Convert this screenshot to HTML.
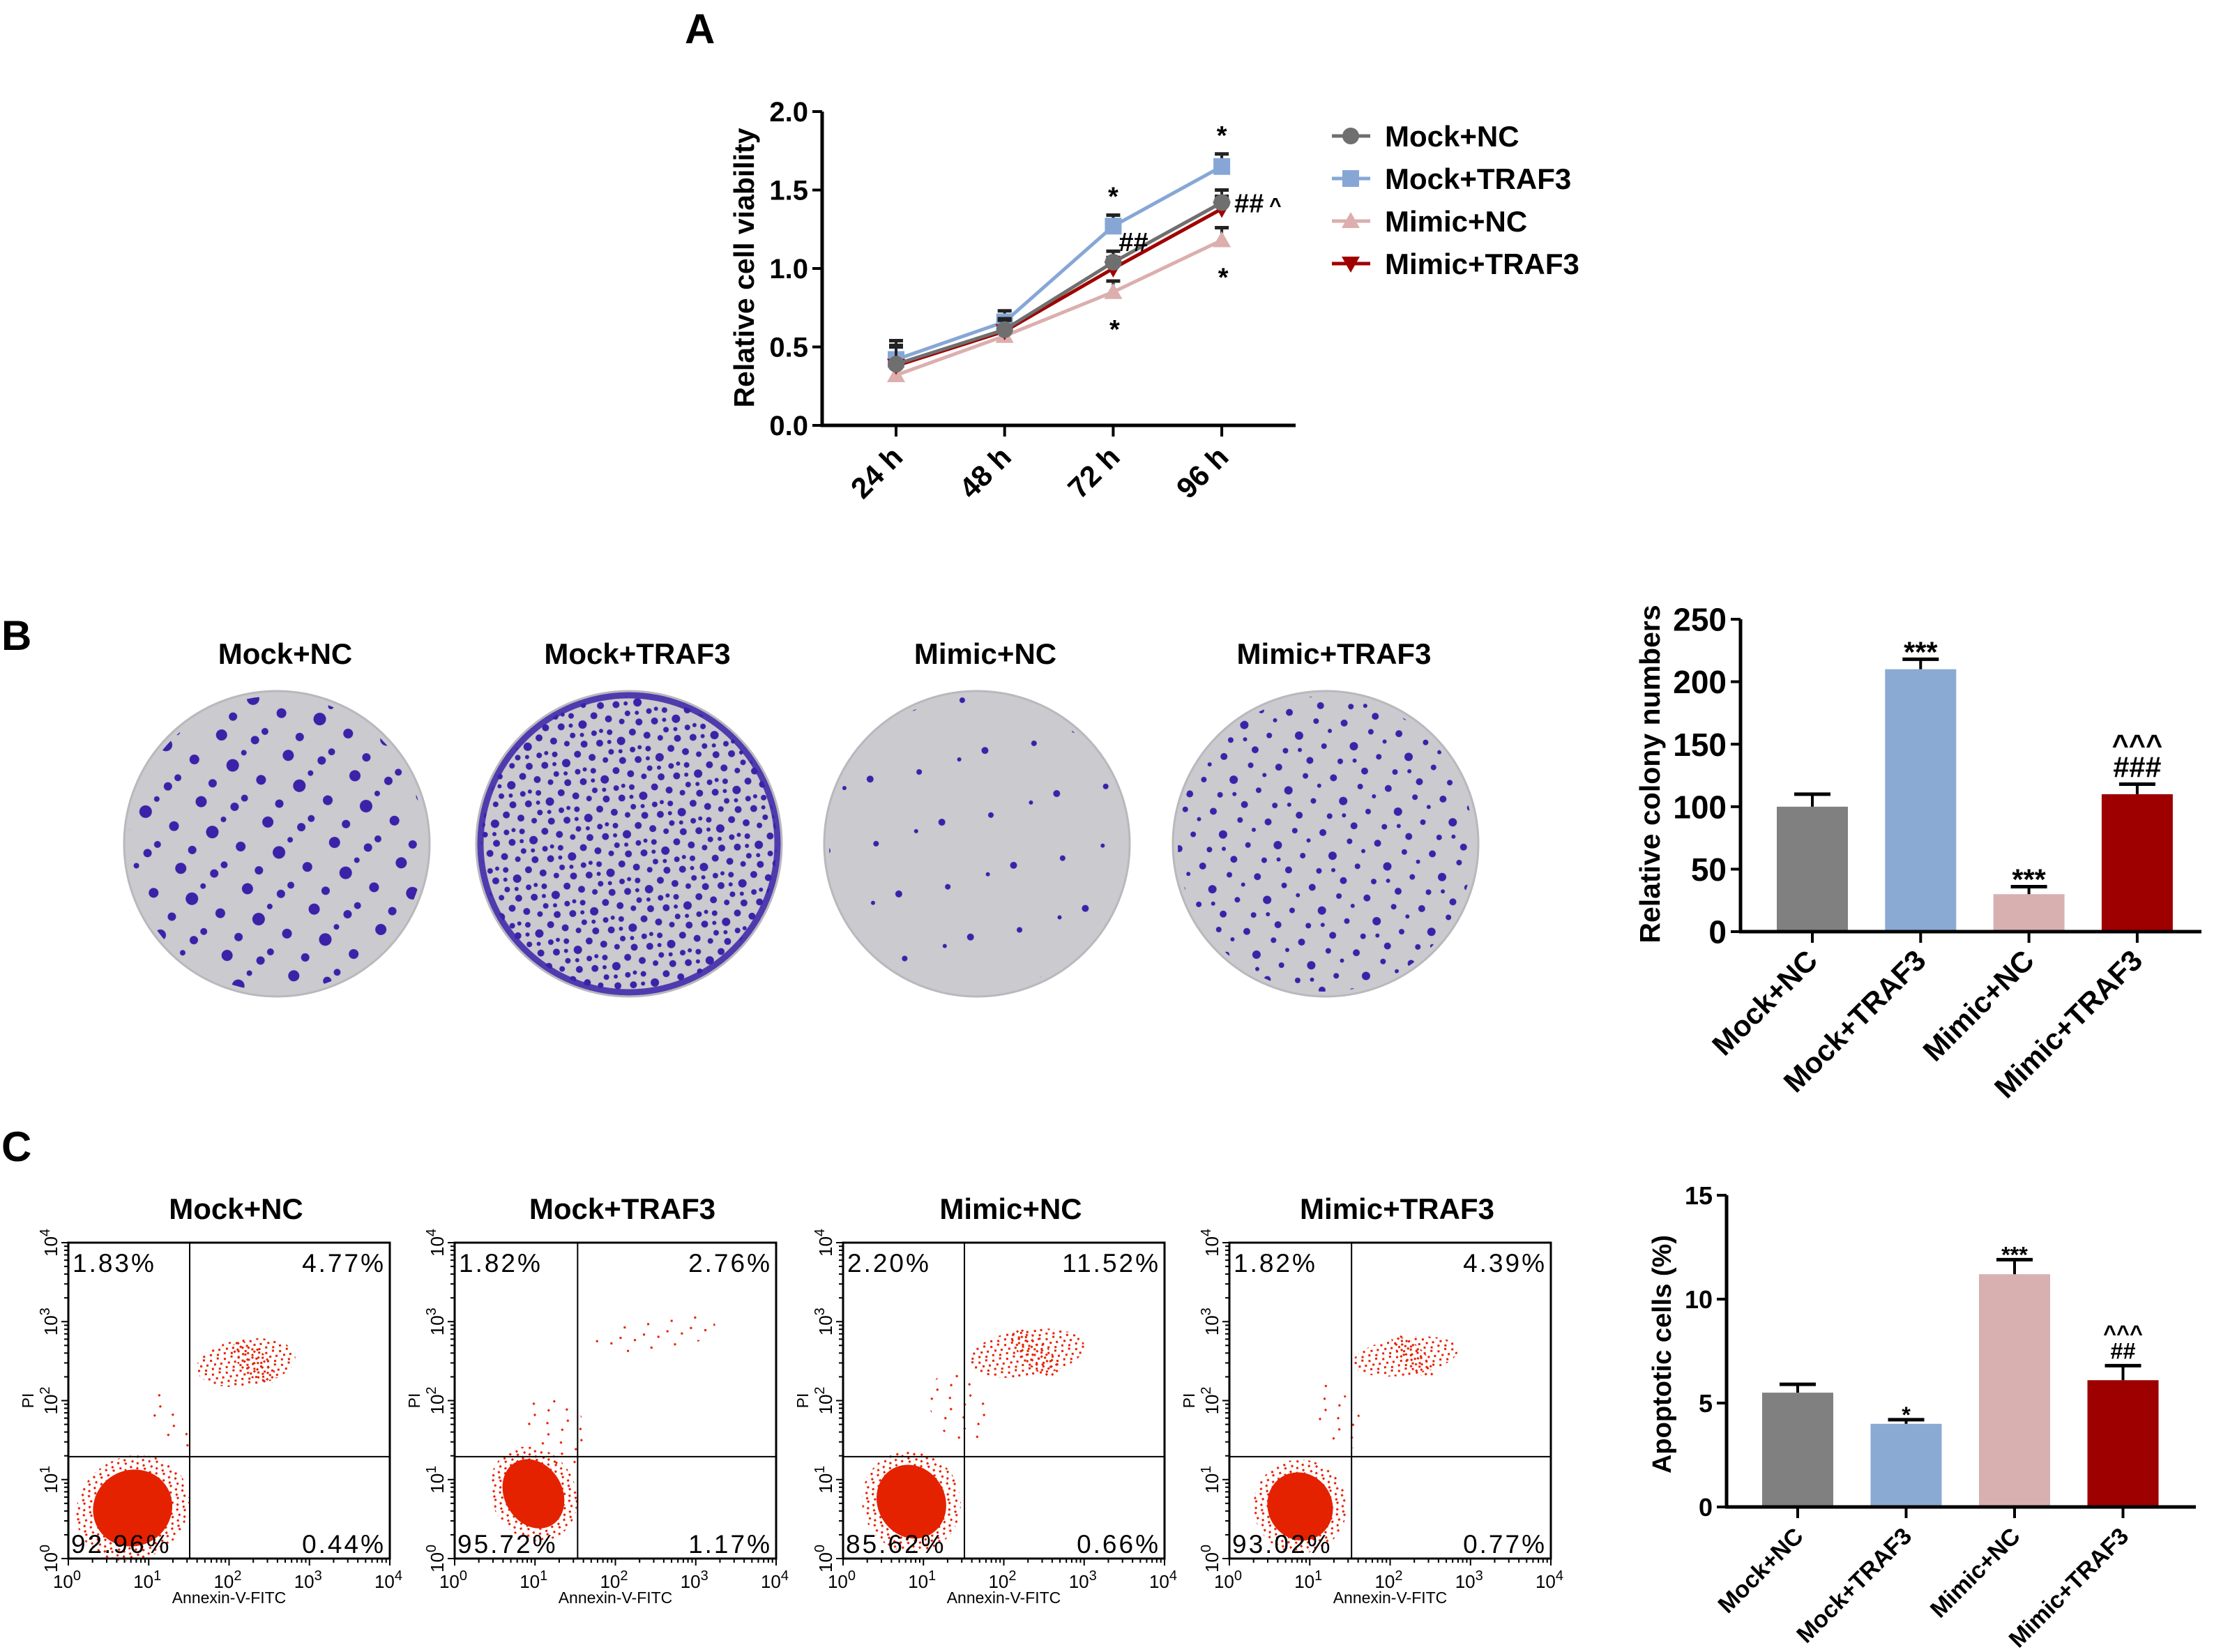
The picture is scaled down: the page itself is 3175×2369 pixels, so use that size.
<!DOCTYPE html>
<html><head><meta charset="utf-8">
<style>
html,body{margin:0;padding:0;background:#fff;}
svg{display:block;font-family:"Liberation Sans",Arial,sans-serif;}
</style></head>
<body>
<svg id="fig" width="3175" height="2369" viewBox="0 0 3175 2369" xmlns="http://www.w3.org/2000/svg">
<defs>
  <pattern id="pNC" width="100" height="100" patternUnits="userSpaceOnUse" patternTransform="rotate(17)">
    <circle cx="12" cy="15" r="8" fill="#3b22a8"/><circle cx="60" cy="8" r="6" fill="#3b22a8"/>
    <circle cx="40" cy="52" r="9" fill="#3b22a8"/><circle cx="85" cy="60" r="7" fill="#3b22a8"/>
    <circle cx="20" cy="85" r="6" fill="#3b22a8"/><circle cx="70" cy="92" r="5" fill="#3b22a8"/>
    <circle cx="50" cy="30" r="4" fill="#3b22a8"/>
  </pattern>
  <pattern id="pTR" width="60" height="60" patternUnits="userSpaceOnUse" patternTransform="rotate(23)">
    <circle cx="6" cy="8" r="5" fill="#3b22a8"/><circle cx="25" cy="4" r="4" fill="#3b22a8"/>
    <circle cx="45" cy="12" r="5" fill="#3b22a8"/><circle cx="15" cy="25" r="4" fill="#3b22a8"/>
    <circle cx="35" cy="30" r="6" fill="#3b22a8"/><circle cx="55" cy="35" r="4" fill="#3b22a8"/>
    <circle cx="8" cy="45" r="5" fill="#3b22a8"/><circle cx="28" cy="50" r="4" fill="#3b22a8"/>
    <circle cx="48" cy="55" r="5" fill="#3b22a8"/><circle cx="20" cy="38" r="3" fill="#3b22a8"/>
    <circle cx="40" cy="44" r="3" fill="#3b22a8"/><circle cx="3" cy="28" r="3" fill="#3b22a8"/>
  </pattern>
  <pattern id="pMN" width="120" height="120" patternUnits="userSpaceOnUse" patternTransform="rotate(31)">
    <circle cx="20" cy="30" r="4" fill="#3b22a8"/><circle cx="85" cy="75" r="5" fill="#3b22a8"/>
    <circle cx="60" cy="105" r="3" fill="#3b22a8"/>
  </pattern>
  <pattern id="pMT" width="80" height="80" patternUnits="userSpaceOnUse" patternTransform="rotate(11)">
    <circle cx="10" cy="10" r="5" fill="#3b22a8"/><circle cx="50" cy="15" r="4" fill="#3b22a8"/>
    <circle cx="30" cy="40" r="6" fill="#3b22a8"/><circle cx="68" cy="48" r="4" fill="#3b22a8"/>
    <circle cx="15" cy="65" r="4" fill="#3b22a8"/><circle cx="52" cy="72" r="5" fill="#3b22a8"/>
    <circle cx="72" cy="25" r="3" fill="#3b22a8"/><circle cx="35" cy="60" r="3" fill="#3b22a8"/>
  </pattern>
  <pattern id="dDense" width="20" height="20" patternUnits="userSpaceOnUse">
    <rect x="2" y="3" width="3" height="3" fill="#e82000"/><rect x="12" y="1" width="3" height="3" fill="#e82000"/>
    <rect x="7" y="9" width="3" height="3" fill="#e82000"/><rect x="16" y="9" width="3" height="3" fill="#e82000"/>
    <rect x="3" y="15" width="3" height="3" fill="#e82000"/><rect x="13" y="16" width="3" height="3" fill="#e82000"/>
  </pattern>
  <pattern id="dSparse" width="34" height="34" patternUnits="userSpaceOnUse">
    <rect x="4" y="6" width="3" height="3" fill="#e82000"/><rect x="24" y="12" width="3" height="3" fill="#e82000"/>
    <rect x="12" y="26" width="3" height="3" fill="#e82000"/>
  </pattern>
</defs>
<g id="root"></g>
</svg>
<script>
// ---------- Panel A data ----------
const timeLabels = ["24 h","48 h","72 h","96 h"];
const seriesNames = ["Mock+NC","Mock+TRAF3","Mimic+NC","Mimic+TRAF3"];
const mockNC = [0.39,0.61,1.04,1.42];
const mockTRAF3 = [0.42,0.66,1.27,1.65];
const mimicNC = [0.32,0.57,0.85,1.18];
const mimicTRAF3 = [0.38,0.60,1.00,1.38];
const errA = [0.12,0.07,0.07,0.08];
const yTicksA = [0.0,0.5,1.0,1.5,2.0];
// ---------- Panel B data ----------
const groups = ["Mock+NC","Mock+TRAF3","Mimic+NC","Mimic+TRAF3"];
const colonyValues = [100,210,30,110];
const colonyErr = [10,8,6,8];
const yTicksB = [0,50,100,150,200,250];
const colonySig = [[],["***"],["***"],["###","^^^"]];
// ---------- Panel C data ----------
const apoptosisValues = [5.5,4.0,11.2,6.1];
const apoptosisErr = [0.4,0.2,0.7,0.7];
const yTicksC = [0,5,10,15];
const apoSig = [[],["*"],["***"],["##","^^^"]];
// flow quadrant percentages [UL, UR, LL, LR]
const flowPct = [["1.83%","4.77%","92.96%","0.44%"],["1.82%","2.76%","95.72%","1.17%"],["2.20%","11.52%","85.62%","0.66%"],["1.82%","4.39%","93.02%","0.77%"]];
// flow clusters (log10 coords): [cx, cy, rx, ry]
const flowCore = [[0.80,0.64,0.50,0.48],[0.98,0.82,0.36,0.46],[0.85,0.72,0.42,0.48],[0.88,0.66,0.40,0.44]];
const flowUpper = [[2.21,2.48,0.62,0.30],[2.50,2.85,0.75,0.24],[2.29,2.60,0.72,0.30],[2.19,2.56,0.66,0.24]];
const flowDiag = [[1.25,1.75,0.16,0.42],[1.30,1.60,0.34,0.55],[1.45,1.90,0.34,0.48],[1.35,1.80,0.24,0.46]];
const flowGate = [[1.51,1.29],[1.53,1.29],[1.51,1.29],[1.52,1.29]];

const NS="http://www.w3.org/2000/svg";
const root=document.getElementById('root');
function el(tag,attrs,parent){const e=document.createElementNS(NS,tag);for(const k in attrs)e.setAttribute(k,attrs[k]);(parent||root).appendChild(e);return e;}
function txt(s,attrs,parent){const e=el('text',attrs,parent);e.textContent=s;return e;}

let t;
t=txt("A",{x:982,y:62,"font-size":60,"font-weight":"bold"});


t=txt("B",{x:2,y:932,"font-size":60,"font-weight":"bold"});


t=txt("C",{x:2,y:1665,"font-size":60,"font-weight":"bold"});



// ================= Panel A =================
(function(){
  const g=el('g',{});
  
  
  const X0=1179,Xend=1858,Y0=610,Y2=160;
  const x=i=>1285+i*155.7;
  const y=v=>Y0-(v/2)*(Y0-Y2);
  el('line',{x1:X0,y1:Y2,x2:X0,y2:Y0+2,stroke:"#000","stroke-width":5},g);
  el('line',{x1:X0-2,y1:Y0,x2:Xend,y2:Y0,stroke:"#000","stroke-width":5},g);
  yTicksA.forEach(v=>{
    el('line',{x1:X0-14,y1:y(v),x2:X0,y2:y(v),stroke:"#000","stroke-width":4},g);
    const tt=txt(v.toFixed(1),{x:X0-20,y:y(v)+14,"font-size":40,"font-weight":"bold","text-anchor":"end"},g);
    
    
  });
  timeLabels.forEach((s,i)=>{
    el('line',{x1:x(i),y1:Y0,x2:x(i),y2:Y0+16,stroke:"#000","stroke-width":4},g);
    const tt=txt(s,{x:x(i)+12,y:Y0+48,"font-size":42,"font-weight":"bold","text-anchor":"end",transform:`rotate(-45 ${x(i)+12} ${Y0+48})`},g);
    
    
  });
  const yl=txt("Relative cell viability",{x:0,y:0,"font-size":41,"font-weight":"bold","text-anchor":"middle",transform:`translate(1081 384) rotate(-90)`},g);
  
  
  const data=[mockNC,mockTRAF3,mimicNC,mimicTRAF3];
  const cols=["#6f6f6f","#86a7d6","#dcaeae","#a00000"];
  const marks=["circle","square","tri","tridown"];
  function marker(type,cx,cy,col,parent){
    if(type==="circle") return el('circle',{cx,cy,r:12,fill:col},parent);
    if(type==="square") return el('rect',{x:cx-12,y:cy-12,width:24,height:24,fill:col},parent);
    if(type==="tri") return el('polygon',{points:`${cx},${cy-13} ${cx+13},${cy+10} ${cx-13},${cy+10}`,fill:col},parent);
    return el('polygon',{points:`${cx},${cy+13} ${cx+13},${cy-10} ${cx-13},${cy-10}`,fill:col},parent);
  }
  const order=[2,1,3,0];
  order.forEach(si=>{
    const arr=data[si];
    const sg=el('g',{},g);
    
    
    arr.forEach((v,i)=>{
      const top=y(v+errA[i]);
      el('line',{x1:x(i),y1:y(v),x2:x(i),y2:top,stroke:"#222","stroke-width":4},sg);
      el('line',{x1:x(i)-10,y1:top,x2:x(i)+10,y2:top,stroke:"#222","stroke-width":5},sg);
    });
    const pl=el('polyline',{points:arr.map((v,i)=>`${x(i)},${y(v)}`).join(' '),fill:"none",stroke:cols[si],"stroke-width":5},sg);
    
    
    arr.forEach((v,i)=>{
      const m=marker(marks[si],x(i),y(v),cols[si],sg);
      
      
    });
  });
  const fs={"font-size":38,"font-weight":"bold"};
  [2,3].forEach(i=>{txt("*",Object.assign({x:x(i),y:y(mockTRAF3[i]+errA[i])-14,"text-anchor":"middle"},fs),g);});
  [2,3].forEach(i=>{txt("*",Object.assign({x:x(i)+2,y:y(mimicNC[i])+66,"text-anchor":"middle"},fs),g);});
  txt("##",Object.assign({x:x(2)+8,y:y(mockNC[2])-16},fs),g);
  txt("##",Object.assign({x:x(3)+18,y:y(mockNC[3])+14},fs),g);
  txt("^",Object.assign({x:x(3)+68,y:y(mockNC[3])+14,"font-size":30},{"font-weight":"bold"}),g);
  const lg=el('g',{},g);
  
  
  const ly=[195,256,317,378];
  seriesNames.forEach((s,i)=>{
    const eg=el('g',{},lg);
    
    
    el('line',{x1:1910,y1:ly[i],x2:1965,y2:ly[i],stroke:cols[i],"stroke-width":5},eg);
    marker(marks[i],1937,ly[i],cols[i],eg);
    txt(s,{x:1986,y:ly[i]+15,"font-size":42,"font-weight":"bold"},eg);
  });
})();

// ================= Plates =================
const plateX=[397,902,1401,1901];
const platePat=["pNC","pTR","pMN","pMT"];
groups.forEach((s,i)=>{
  const g=el('g',{});
  
  
  const tt=txt(s,{x:plateX[i]+12,y:952,"font-size":42,"font-weight":"bold","text-anchor":"middle"},g);
  
  
  el('circle',{cx:plateX[i],cy:1210,r:219,fill:"#cacacf"},g);
  el('circle',{cx:plateX[i],cy:1210,r:212,fill:"url(#"+platePat[i]+")"},g);
  if(i===1) el('circle',{cx:plateX[i],cy:1210,r:213,fill:"none",stroke:"#3b22a8","stroke-width":9,"stroke-opacity":0.85},g);
  el('circle',{cx:plateX[i],cy:1210,r:219,fill:"none",stroke:"#b8b8bd","stroke-width":3},g);
});

// ================= Bar charts =================
function barChart(opts){
  const g=el('g',{});
  
  
  const {X0,Xend,Y0,Ytop,max,vals,errs,ticks,sig,fsT,fsX,fsL,labelX,labelY,title,c0,step,bw}=opts;
  const y=v=>Y0-(v/max)*(Y0-Ytop);
  const cx=i=>c0+i*step;
  const cols=["#808080","#8aaad4","#d8b0b0","#9e0000"];
  vals.forEach((v,i)=>{
    const r=el('rect',{x:cx(i)-bw/2,y:y(v),width:bw,height:Y0-y(v),fill:cols[i]},g);
    
    
    const top=y(v+errs[i]);
    el('line',{x1:cx(i),y1:y(v),x2:cx(i),y2:top,stroke:"#000","stroke-width":4},g);
    el('line',{x1:cx(i)-26,y1:top,x2:cx(i)+26,y2:top,stroke:"#000","stroke-width":5},g);
    let by=top-10;
    sig[i].forEach(s=>{
      const st=txt(s,{x:cx(i),y:by+(s[0]==="*"?14:0),"font-size":fsT*0.9,"font-weight":"bold","text-anchor":"middle"},g);
      
      
      by-=fsT*0.7;
    });
    el('line',{x1:cx(i),y1:Y0,x2:cx(i),y2:Y0+16,stroke:"#000","stroke-width":4},g);
    const xt=txt(groups[i],{x:cx(i)+10,y:Y0+44,"font-size":fsX,"font-weight":"bold","text-anchor":"end",transform:`rotate(-45 ${cx(i)+10} ${Y0+44})`},g);
    
    
  });
  el('line',{x1:X0,y1:Ytop,x2:X0,y2:Y0+2,stroke:"#000","stroke-width":5},g);
  el('line',{x1:X0-2,y1:Y0,x2:Xend,y2:Y0,stroke:"#000","stroke-width":5},g);
  ticks.forEach(v=>{
    el('line',{x1:X0-14,y1:y(v),x2:X0,y2:y(v),stroke:"#000","stroke-width":4},g);
    const tt=txt(String(v),{x:X0-20,y:y(v)+fsT*0.36,"font-size":fsT,"font-weight":"bold","text-anchor":"end"},g);
    
    
  });
  const yl=txt(title,{x:0,y:0,"font-size":fsL,"font-weight":"bold","text-anchor":"middle",transform:`translate(${labelX} ${labelY}) rotate(-90)`},g);
  
  
}
barChart({name:"colony-bar-chart",X0:2496,Xend:3157,Y0:1336,Ytop:888,max:250,vals:colonyValues,errs:colonyErr,ticks:yTicksB,sig:colonySig,fsT:46,fsX:42,fsL:41,labelX:2380,labelY:1110,title:"Relative colony numbers",c0:2599,step:155.3,bw:102});
barChart({name:"apoptosis-bar-chart",X0:2476,Xend:3149,Y0:2161,Ytop:1714,max:15,vals:apoptosisValues,errs:apoptosisErr,ticks:yTicksC,sig:apoSig,fsT:36,fsX:34,fsL:38,labelX:2396,labelY:1942,title:"Apoptotic cells (%)",c0:2578,step:155.5,bw:102});

// ================= Flow plots =================
const flowLeft=[98,652,1209,1763];
const FT=1782,FB=2235,FW=461;
groups.forEach((s,p)=>{
  const g=el('g',{});
  
  
  const L=flowLeft[p],R=L+FW;
  const x=v=>L+v/4*FW;
  const y=v=>FB-v/4*(FB-FT);
  const tt=txt(s,{x:L+FW/2+10,y:1748,"font-size":42,"font-weight":"bold","text-anchor":"middle"},g);
  
  
  const cl=el('g',{},g);
  
  
  const d=flowDiag[p],u=flowUpper[p],c=flowCore[p];
  el('ellipse',{cx:x(d[0]),cy:y(d[1]),rx:d[2]/4*FW,ry:d[3]/4*(FB-FT),fill:"url(#dSparse)",transform:`rotate(-35 ${x(d[0])} ${y(d[1])})`},cl);
  el('ellipse',{cx:x(u[0]),cy:y(u[1]),rx:u[2]/4*FW,ry:u[3]/4*(FB-FT),fill:p===1?"url(#dSparse)":"url(#dDense)",transform:`rotate(-8 ${x(u[0])} ${y(u[1])})`},cl);
  if(p!==1) el('ellipse',{cx:x(u[0]+0.1),cy:y(u[1]),rx:u[2]/4*FW*0.55,ry:u[3]/4*(FB-FT)*0.55,fill:"url(#dDense)",transform:`rotate(45 ${x(u[0]+0.1)} ${y(u[1])})`},cl);
  el('ellipse',{cx:x(c[0]),cy:y(c[1]),rx:c[2]/4*FW*1.45,ry:c[3]/4*(FB-FT)*1.35,fill:"url(#dDense)",transform:`rotate(-30 ${x(c[0])} ${y(c[1])})`},cl);
  el('ellipse',{cx:x(c[0]),cy:y(c[1]),rx:c[2]/4*FW,ry:c[3]/4*(FB-FT),fill:"#e42200",transform:`rotate(-30 ${x(c[0])} ${y(c[1])})`},cl);
  el('rect',{x:L,y:FT,width:FW,height:FB-FT,fill:"none",stroke:"#000","stroke-width":3},g);
  const gx=x(flowGate[p][0]),gy=y(flowGate[p][1]);
  el('line',{x1:gx,y1:FT,x2:gx,y2:FB,stroke:"#000","stroke-width":2},g);
  el('line',{x1:L,y1:gy,x2:R,y2:gy,stroke:"#000","stroke-width":2},g);
  for(let dcd=0;dcd<4;dcd++){for(let k=1;k<=9;k++){
    const v=dcd+Math.log10(k);const len=k===1?10:6;
    el('line',{x1:x(v),y1:FB,x2:x(v),y2:FB+len,stroke:"#000","stroke-width":2},g);
    el('line',{x1:L,y1:y(v),x2:L-len,y2:y(v),stroke:"#000","stroke-width":2},g);
  }}
  el('line',{x1:R,y1:FB,x2:R,y2:FB+10,stroke:"#000","stroke-width":2},g);
  el('line',{x1:L,y1:FT,x2:L-10,y2:FT,stroke:"#000","stroke-width":2},g);
  for(let e=0;e<=4;e++){
    const xt=el('text',{x:x(e)-2,y:FB+42,"font-size":26,"text-anchor":"middle"},g);
    xt.innerHTML=`10<tspan dy="-11" font-size="20">${e}</tspan>`;
    
    
    const yt=el('text',{x:0,y:0,"font-size":26,"text-anchor":"middle",transform:`translate(${L-16} ${y(e)}) rotate(-90)`},g);
    yt.innerHTML=`10<tspan dy="-11" font-size="20">${e}</tspan>`;
    
    
  }
  const xl=txt("Annexin-V-FITC",{x:L+FW/2,y:FB+64,"font-size":23,"text-anchor":"middle"},g);
  
  
  const yl=txt("PI",{x:0,y:0,"font-size":23,"text-anchor":"middle",transform:`translate(${L-50} ${y(2)}) rotate(-90)`},g);
  
  
  const pc=flowPct[p];
  const pf={"font-size":37,"letter-spacing":3};
  [[pc[0],L+6,FT+42,"start"],[pc[1],R-6,FT+42,"end"],[pc[2],L+4,FB-8,"start"],[pc[3],R-6,FB-8,"end"]].forEach(([s2,xx,yy,a])=>{
    const q=txt(s2,Object.assign({x:xx,y:yy,"text-anchor":a},pf),g);
    
    
  });
});
</script>
</body></html>
